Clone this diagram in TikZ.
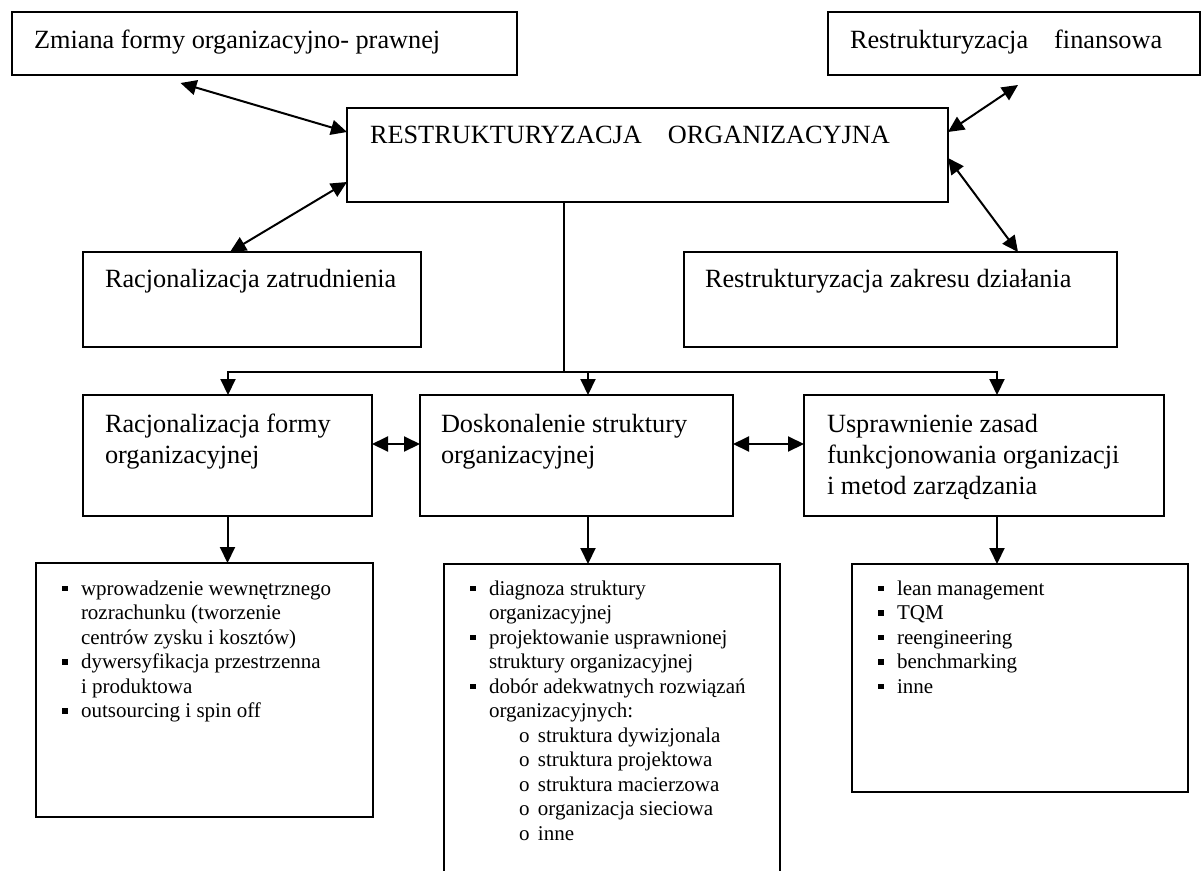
\documentclass[tikz,border=0pt]{standalone}
\usepackage{fontspec}
\setmainfont{Liberation Serif}
\usetikzlibrary{arrows.meta}
\newcommand{\sq}{\makebox[19pt][l]{\rule[4pt]{5.5pt}{5.5pt}}}
\newcommand{\ind}{\hspace*{19pt}}
\newcommand{\subo}{\hspace*{49pt}\makebox[19pt][l]{o}}
\begin{document}
\begin{tikzpicture}[x=1pt,y=-1pt,line width=2pt,
    >={Triangle[length=16pt,width=15pt]},
    box/.style={draw,rectangle,anchor=north west,inner sep=0pt,outer sep=0pt},
    big/.style={anchor=north west,inner sep=0pt,align=left,font=\fontsize{26.3}{31}\selectfont},
    small/.style={anchor=north west,inner sep=0pt,align=left,font=\fontsize{21}{24.5}\selectfont}]
  \useasboundingbox (0,0) rectangle (1201,870);
  \clip (0,0) rectangle (1201,870);
  \node[box,minimum width=505.5pt,minimum height=63pt] (zmiana) at (11.5,12) {};
  \node[box,minimum width=601pt,minimum height=94pt] (restr) at (347,108) {};
  \node[box,minimum width=372pt,minimum height=63pt] (finanse) at (828,12) {};
  \node[box,minimum width=338pt,minimum height=95pt] (zatr) at (83,252) {};
  \node[box,minimum width=433pt,minimum height=95pt] (zakres) at (684,252) {};
  \node[box,minimum width=289pt,minimum height=121pt] (forma) at (83,395) {};
  \node[box,minimum width=313pt,minimum height=121pt] (struktura) at (420,395) {};
  \node[box,minimum width=360pt,minimum height=121pt] (zasady) at (804,395) {};
  \node[box,minimum width=337pt,minimum height=254pt] (lista1) at (36,563) {};
  \node[box,minimum width=336pt,minimum height=330pt] (lista2) at (444,564) {};
  \node[box,minimum width=336pt,minimum height=228pt] (lista3) at (852,564) {};
  \node[big] (zmiana-t) at ([shift={(21.5,14)}]zmiana.north west) {\strut Zmiana formy organizacyjno- prawnej};
  \node[big] (restr-t) at ([shift={(22,13)}]restr.north west) {\strut RESTRUKTURYZACJA\hspace{26pt}ORGANIZACYJNA};
  \node[big] (finanse-t) at ([shift={(21,14)}]finanse.north west) {\strut Restrukturyzacja\hspace{26pt}finansowa};
  \node[big] (zatr-t) at ([shift={(21,13)}]zatr.north west) {\strut Racjonalizacja zatrudnienia};
  \node[big] (zakres-t) at ([shift={(20,13)}]zakres.north west) {\strut Restrukturyzacja zakresu działania};
  \node[big] (forma-t) at ([shift={(21,15)}]forma.north west) {\strut Racjonalizacja formy\\organizacyjnej};
  \node[big] (struktura-t) at ([shift={(20,15)}]struktura.north west) {\strut Doskonalenie struktury\\organizacyjnej};
  \node[big] (zasady-t) at ([shift={(22,15)}]zasady.north west) {\strut Usprawnienie zasad\\funkcjonowania organizacji\\i metod zarządzania};
  \node[small] (lista1-t) at ([shift={(25,14)}]lista1.north west) {\strut\sq wprowadzenie wewnętrznego\\
    \ind rozrachunku (tworzenie\\
    \ind centrów zysku i kosztów)\\
    \sq dywersyfikacja przestrzenna\\
    \ind i produktowa\\
    \sq outsourcing i spin off};
  \node[small] (lista2-t) at ([shift={(25,13)}]lista2.north west) {\strut\sq diagnoza struktury\\
    \ind organizacyjnej\\
    \sq projektowanie usprawnionej\\
    \ind struktury organizacyjnej\\
    \sq dobór adekwatnych rozwiązań\\
    \ind organizacyjnych:\\
    \subo struktura dywizjonala\\
    \subo struktura projektowa\\
    \subo struktura macierzowa\\
    \subo organizacja sieciowa\\
    \subo inne};
  \node[small] (lista3-t) at ([shift={(25,13)}]lista3.north west) {\strut\sq lean management\\
    \sq TQM\\
    \sq reengineering\\
    \sq benchmarking\\
    \sq inne};
  \coordinate (zmiana-k) at ([shift={(169,71)}]zmiana.north west);
  \coordinate (finanse-k) at ([shift={(190,73)}]finanse.north west);
  \coordinate (podzial) at (564,372);
  \draw[<->] (zmiana-k) -- ([shift={(0,24)}]restr.north west);
  \draw[<->] ([shift={(0,74)}]restr.north west) -- ([shift={(147,0)}]zatr.north west);
  \draw[<->] (finanse-k) -- ([shift={(0,24)}]restr.north east);
  \draw[<->] ([shift={(0,50)}]restr.north east) -- ([shift={(334,0)}]zakres.north west);
  \draw (restr.south -| podzial) -- (podzial);
  \draw[->] (podzial) -| ([shift={(145,0)}]forma.north west);
  \draw[->] (podzial) -| ([shift={(168,0)}]struktura.north west);
  \draw[->] (podzial) -| ([shift={(193,0)}]zasady.north west);
  \draw[<->] ([shift={(0,49)}]forma.north east) -- ([shift={(0,49)}]struktura.north west);
  \draw[<->] ([shift={(0,49)}]struktura.north east) -- ([shift={(0,49)}]zasady.north west);
  \draw[->] (forma.south) -- (forma.south |- lista1.north);
  \draw[->] ([shift={(168,0)}]struktura.south west) -- ([shift={(168,0)}]struktura.south west |- lista2.north);
  \draw[->] ([shift={(193,0)}]zasady.south west) -- ([shift={(193,0)}]zasady.south west |- lista3.north);
\end{tikzpicture}
\end{document}
